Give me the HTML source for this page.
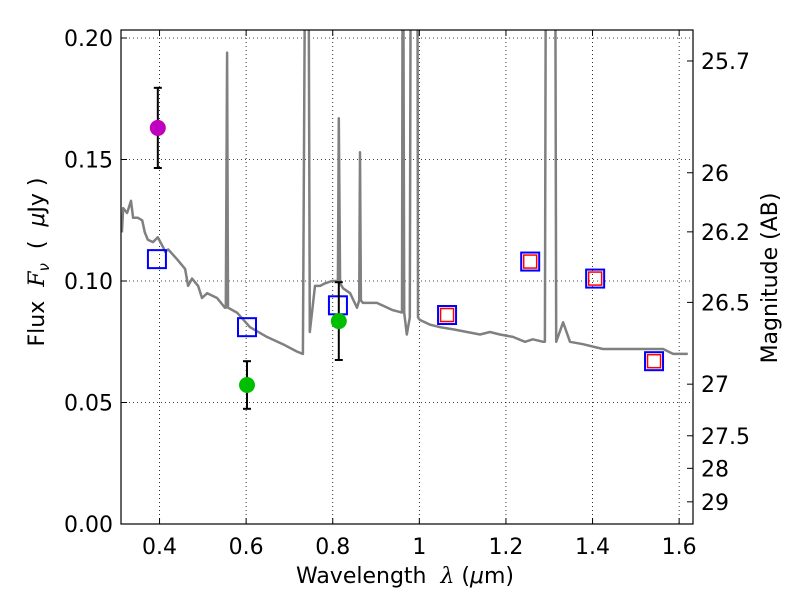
<!DOCTYPE html>
<html><head><meta charset="utf-8"><style>
html,body{margin:0;padding:0;background:#fff}
svg{display:block;font-family:"DejaVu Sans","Liberation Sans",sans-serif}
text{white-space:pre}
</style></head><body>
<svg id="chart" width="800" height="600" viewBox="0 0 800 600" xmlns="http://www.w3.org/2000/svg"></svg>
<script>
// ---- data ----
const specLam = [0.313,0.316,0.325,0.334,0.339,0.350,0.360,0.366,0.373,0.385,0.396,0.408,0.413,0.420,0.440,0.459,0.466,0.475,0.489,0.498,0.510,0.533,0.551,0.553,0.556,0.558,0.579,0.609,0.648,0.685,0.717,0.731,0.738,0.743,0.747,0.759,0.771,0.782,0.798,0.812,0.814,0.817,0.824,0.840,0.856,0.861,0.863,0.865,0.870,0.902,0.939,0.960,0.962,0.965,0.971,0.978,0.981,0.995,0.997,1.001,1.025,1.048,1.082,1.110,1.140,1.163,1.186,1.216,1.244,1.262,1.286,1.290,1.293,1.313,1.316,1.332,1.348,1.378,1.424,1.480,1.563,1.586,1.620];
const specFlux = [0.120,0.130,0.128,0.133,0.126,0.126,0.125,0.120,0.117,0.116,0.118,0.114,0.112,0.113,0.109,0.105,0.098,0.101,0.098,0.093,0.095,0.093,0.089,0.089,0.194,0.089,0.087,0.081,0.077,0.074,0.071,0.070,0.3,0.3,0.079,0.098,0.098,0.099,0.100,0.100,0.167,0.099,0.097,0.095,0.089,0.092,0.153,0.092,0.091,0.091,0.088,0.087,0.3,0.087,0.078,0.085,0.3,0.3,0.085,0.084,0.082,0.081,0.080,0.079,0.078,0.079,0.078,0.077,0.075,0.076,0.075,0.075,0.3,0.3,0.075,0.083,0.075,0.074,0.072,0.072,0.072,0.070,0.070];
const obsLam = [0.396,0.602,0.814];
const obsFlux = [0.163,0.0572,0.0835];
const obsErr = [0.0165,0.0098,0.016];
const obsColor = ["#bf00bf","#00bf00","#00bf00"];
const bandLam = [0.394,0.602,0.812,1.064,1.256,1.406,1.542];
const bandFlux = [0.109,0.081,0.090,0.086,0.108,0.101,0.067];
const modelLam = [1.064,1.256,1.406,1.542];
const modelFlux = [0.086,0.108,0.101,0.067];
const xTicks = [0.4,0.6,0.8,1.0,1.2,1.4,1.6];
const xTickLabels = ["0.4","0.6","0.8","1","1.2","1.4","1.6"];
const yTicks = [0,0.05,0.10,0.15,0.20];
const yTickLabels = ["0.00","0.05","0.10","0.15","0.20"];
const magTicks = [25.7,26,26.2,26.5,27,27.5,28,29];
const magTickLabels = ["25.7","26","26.2","26.5","27","27.5","28","29"];

// ---- axes ----
const L=121,R=693,T=30,B=524;
const X0=0.311,X1=1.632,Y0=0,Y1=(B-T)/2430;
const sx=v=>L+(v-X0)/(X1-X0)*(R-L);
const sy=v=>B-(v-Y0)/(Y1-Y0)*(B-T);
const magToFlux=m=>Math.pow(10,(23.9-m)/2.5);
const NS="http://www.w3.org/2000/svg";
const svg=document.getElementById('chart');
function mk(tag,attrs,parent){const e=document.createElementNS(NS,tag);for(const k in attrs)e.setAttribute(k,attrs[k]);(parent||svg).appendChild(e);return e;}

const defs=mk('defs',{});
const cp=mk('clipPath',{id:'clip'},defs);
mk('rect',{x:L,y:T,width:R-L,height:B-T},cp);

const grid=mk('g',{});


xTicks.forEach(v=>{mk('line',{x1:sx(v),x2:sx(v),y1:T,y2:B,stroke:'#000','stroke-width':0.8,'stroke-dasharray':'1,3'},grid);});
yTicks.forEach(v=>{mk('line',{x1:L,x2:R,y1:sy(v),y2:sy(v),stroke:'#000','stroke-width':0.8,'stroke-dasharray':'1,3'},grid);});

const plot=mk('g',{'clip-path':'url(#clip)'});
let d='';specLam.forEach((l,i)=>{d+=(i?'L':'M')+sx(l).toFixed(1)+','+sy(specFlux[i]).toFixed(1);});
const sp=mk('path',{d:d,fill:'none',stroke:'#808080','stroke-width':2.5,'stroke-linejoin':'round'},plot);



bandLam.forEach((l,i)=>{
  const r=mk('rect',{x:sx(l)-9,y:sy(bandFlux[i])-9,width:18,height:18,fill:'none',stroke:'#0000ff','stroke-width':2},plot);
  
  
});
modelLam.forEach((l,i)=>{
  const r=mk('rect',{x:sx(l)-6.5,y:sy(modelFlux[i])-6.5,width:13,height:13,fill:'none',stroke:'#ff0000','stroke-width':1.5},plot);
  
  
});
obsLam.forEach((l,i)=>{
  const g=mk('g',{},plot);
  
  
  const x=sx(l),y1=sy(obsFlux[i]+obsErr[i]),y2=sy(obsFlux[i]-obsErr[i]);
  mk('line',{x1:x,x2:x,y1:y1,y2:y2,stroke:'#000','stroke-width':2},g);
  mk('line',{x1:x-4,x2:x+4,y1:y1,y2:y1,stroke:'#000','stroke-width':2},g);
  mk('line',{x1:x-4,x2:x+4,y1:y2,y2:y2,stroke:'#000','stroke-width':2},g);
  mk('circle',{cx:x,cy:sy(obsFlux[i]),r:8,fill:obsColor[i]},g);
});

const fr=mk('rect',{x:L,y:T,width:R-L,height:B-T,fill:'none',stroke:'#000','stroke-width':1.2});



const FS=22;
xTicks.forEach((v,i)=>{
  const x=sx(v);
  mk('line',{x1:x,x2:x,y1:B,y2:B-6,stroke:'#000'});
  mk('line',{x1:x,x2:x,y1:T,y2:T+6,stroke:'#000'});
  const t=mk('text',{x:x,y:B+30,'text-anchor':'middle','font-size':FS});
  t.textContent=xTickLabels[i];
  
  
});
yTicks.forEach((v,i)=>{
  const y=sy(v);
  mk('line',{x1:L,x2:L+6,y1:y,y2:y,stroke:'#000'});
  const t=mk('text',{x:L-8,y:y+8,'text-anchor':'end','font-size':FS});
  t.textContent=yTickLabels[i];
  
  
});
magTicks.forEach((m,i)=>{
  const y=sy(magToFlux(m));
  mk('line',{x1:R-6,x2:R,y1:y,y2:y,stroke:'#000'});
  const t=mk('text',{x:R+8,y:y+8,'text-anchor':'start','font-size':FS});
  t.textContent=magTickLabels[i];
  
  
});

const xt=mk('text',{x:405,y:583,'text-anchor':'middle','font-size':FS});
xt.innerHTML='Wavelength  <tspan font-style="italic" font-family="DejaVu Serif, serif">λ</tspan> (<tspan font-style="italic">μ</tspan>m)';


const yt=mk('text',{x:0,y:0,'text-anchor':'middle','font-size':FS,transform:'translate(44,262) rotate(-90)'});
yt.innerHTML='Flux  <tspan font-style="italic" font-family="DejaVu Serif, serif">F</tspan><tspan font-size="15" dy="5" font-style="italic">ν</tspan><tspan dy="-5">  (  </tspan><tspan font-style="italic">μ</tspan>Jy )';


const rt=mk('text',{x:0,y:0,'text-anchor':'middle','font-size':FS,transform:'translate(777,278) rotate(-90)'});
rt.textContent='Magnitude (AB)';


</script>
</body></html>
